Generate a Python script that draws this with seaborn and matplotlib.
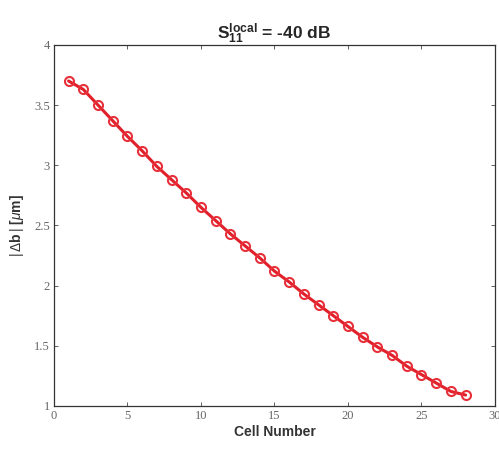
import numpy as np
import pandas as pd
import matplotlib
matplotlib.use('Agg')
import matplotlib.pyplot as plt
import seaborn as sns

sns.set_style('ticks')
plt.rcParams['font.family'] = ['Liberation Sans', 'DejaVu Sans']
plt.rcParams['mathtext.fontset'] = 'custom'
plt.rcParams['mathtext.rm'] = 'Liberation Sans'
plt.rcParams['mathtext.it'] = 'Liberation Sans:italic'
plt.rcParams['mathtext.bf'] = 'Liberation Sans:bold'

# data
cell = list(range(1, 29))
delta_b = [3.70, 3.63, 3.50, 3.37, 3.24, 3.12, 2.99, 2.88, 2.77, 2.65,
           2.54, 2.43, 2.33, 2.23, 2.12, 2.03, 1.93, 1.84, 1.75, 1.66,
           1.57, 1.49, 1.42, 1.33, 1.26, 1.19, 1.12, 1.09]
xticks = [0, 5, 10, 15, 20, 25, 30]
yticks = [1, 1.5, 2, 2.5, 3, 3.5, 4]
ytick_labels = ['1', '1.5', '2', '2.5', '3', '3.5', '4']

df = pd.DataFrame({'cell': cell, 'db': delta_b})

fig = plt.figure(figsize=(4.99, 4.49), dpi=100)
ax = fig.add_axes([0.108, 0.096, 0.884, 0.804])

sns.lineplot(data=df, x='cell', y='db', ax=ax, color='#e0202a', linewidth=2.2,
             marker='o', markersize=6.5, markerfacecolor='none',
             markeredgecolor='#e8303a', markeredgewidth=1.5)

ax.set_xlim(0, 30)
ax.set_ylim(1, 4)
ax.set_xticks(xticks)
ax.set_yticks(yticks)
ax.set_yticklabels(ytick_labels)
for lab in ax.get_xticklabels() + ax.get_yticklabels():
    lab.set_family(['Liberation Serif', 'DejaVu Serif'])
    lab.set_color('#666666')
    lab.set_fontsize(9)
ax.tick_params(direction='in', top=True, right=True, length=3, width=0.6,
               color='#444444', pad=3)
for s in ax.spines.values():
    s.set_linewidth(0.9)
    s.set_color('#333333')

ax.set_xlabel('Cell Number', fontsize=10, fontweight='bold', color='#333333', labelpad=2)
ax.set_ylabel(r'$|\,\Delta$b$\,|$ [$\mu$m]', fontsize=10, fontweight='bold', color='#333333', labelpad=6)
ax.set_title(r'$\mathbf{S_{11}^{local}}$ = -40 dB', fontsize=12.5, fontweight='bold', pad=4)

fig.savefig('out.png', dpi=100)
